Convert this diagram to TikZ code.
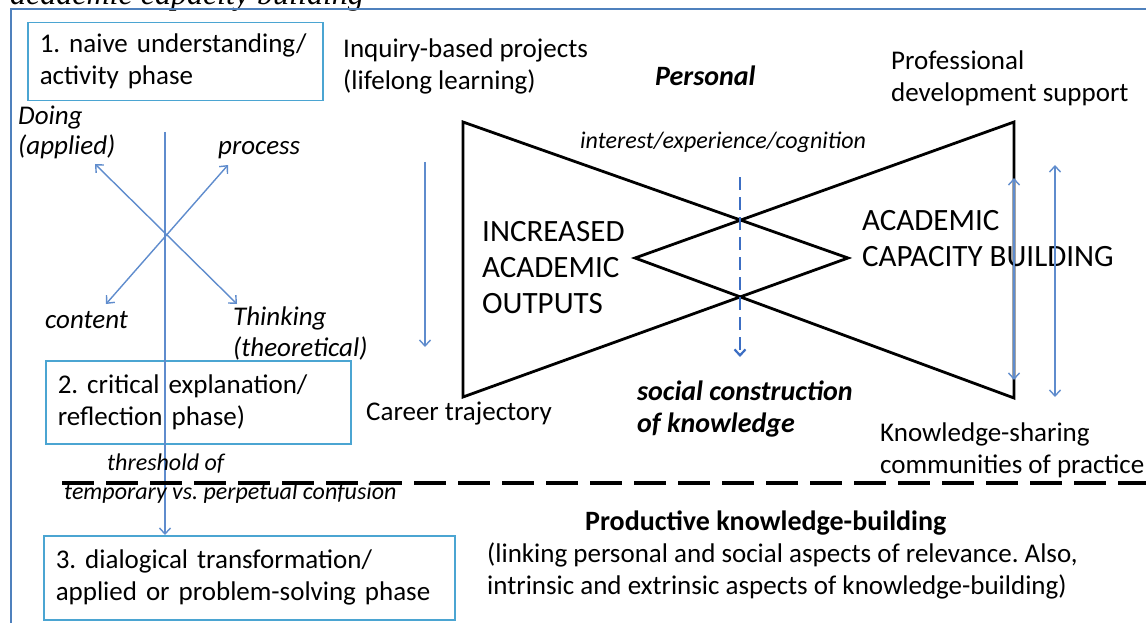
\documentclass[tikz,border=0pt]{standalone}
\usepackage{fontspec}
\setmainfont{Carlito}
\newfontfamily\titlefont{Liberation Serif}
\usetikzlibrary{arrows.meta, positioning, calc}
\definecolor{frameblue}{RGB}{79,129,189}
\definecolor{boxblue}{RGB}{75,165,210}
\definecolor{linkblue}{RGB}{95,140,205}
\definecolor{midblue}{RGB}{60,110,195}
\frenchspacing

\begin{document}
\begin{tikzpicture}[
      x=1pt, y=-1pt,
      >={Straight Barb[length=6pt,width=11pt]},
      phasebox/.style={draw=boxblue, line width=1.5pt, anchor=north west,
        align=left, inner xsep=12pt, inner ysep=0pt,
        font=\fontsize{27}{32}\selectfont},
      lbl/.style={anchor=base west, align=left, inner sep=0pt,
        font=\fontsize{27}{32}\selectfont},
      ilbl/.style={lbl, font=\fontsize{27}{31}\selectfont\itshape},
      slbl/.style={lbl, font=\fontsize{24}{30}\selectfont\itshape},
      bilbl/.style={lbl, font=\fontsize{28}{32}\selectfont\bfseries\itshape},
      caps/.style={lbl, font=\fontsize{31}{36}\selectfont},
      link/.style={draw=linkblue, line width=1.4pt},
      bow/.style={draw=black, line width=2.8pt, line join=miter}
    ]
      \useasboundingbox (0,0) rectangle (1146,623);

      % Title cut off by the frame
      \node[anchor=base west, inner sep=0pt,
        font=\fontsize{32}{38}\selectfont\titlefont\itshape] (title) at (10,5) {academic capacity building};
      \draw[frameblue, line width=2.5pt] (11,9) rectangle (1170,650);

      % Phases
      \node[phasebox, text width=271pt, minimum height=78] (phaseA) at (27,22)
        {1. naive understanding/\\activity phase};
      \node[phasebox, text width=281pt, minimum height=83] (phaseB) at (45,360)
        {2. critical explanation/\\reflection phase)};
      \node[phasebox, text width=387pt, minimum height=84] (phaseC) at (43,535)
        {3. dialogical transformation/\\applied or problem-solving phase};

      % Cross of doing/thinking, process/content
      \coordinate (top) at (165,132);
      \coordinate (doing) at (95,164);
      \coordinate (thinking) at (237,304);
      \coordinate (process) at (228,165);
      \coordinate (content) at (106,304);
      \draw[link, <->] (doing) -- (thinking);
      \draw[link, <->] (process) -- (content);
      \draw[link, ->] (top) -- (phaseC.north -| top);

      \node[ilbl] (doingL) at (18,155) {Doing\\(applied)};
      \node[ilbl] (processL) at (218,154) {process};
      \node[ilbl] (contentL) at (45,328) {content};
      \node[ilbl] (thinkingL) at (233,356) {Thinking\\(theoretical)};

      % Threshold
      \coordinate (dashL) at (62,483);
      \coordinate (dashR) at (1160,483);
      \draw[line width=3.4pt, dash pattern=on 32pt off 12pt] (dashL) -- (dashR);
      \node[slbl] (threshA) at (107,470) {threshold of};
      \node[slbl] (threshB) at (64,499) {temporary vs. perpetual confusion};

      % Bow tie
      \coordinate (TL) at (463,122);
      \coordinate (BL) at (463,397);
      \coordinate (TR) at (1014,122);
      \coordinate (BR) at (1014,398);
      \coordinate (RV) at (848,258);
      \coordinate (LV) at (635,258);
      \draw[bow] (TL) -- (RV) -- (BL) -- cycle;
      \draw[bow] (TR) -- (LV) -- (BR) -- cycle;

      % Career trajectory
      \node[lbl] (inquiry) at (343,90) {Inquiry-based projects\\(lifelong learning)};
      \coordinate (careerTop) at (425,162);
      \coordinate (careerEnd) at (425,347);
      \draw[link, ->] (careerTop) -- (careerEnd);
      \node[lbl] (career) at (366,420) {Career trajectory};

      % Personal / social
      \node[bilbl] (personal) at (655,86) {Personal};
      \node[slbl] (interest) at (580,149) {interest/experience/cognition};
      \coordinate (socTop) at (740,177);
      \coordinate (socEnd) at (740,357);
      \draw[midblue, line width=2.2pt, dash pattern=on 13pt off 7pt, ->] (socTop) -- (socEnd);
      \node[bilbl] (social) at (637,432) {social construction\\of knowledge};

      \node[caps] (outputs) at (482,313) {INCREASED\\ACADEMIC\\OUTPUTS};
      \node[caps] (capacity) at (862,266) {ACADEMIC\\CAPACITY BUILDING};

      % Support and communities
      \node[lbl] (support) at (891,102) {Professional\\development support};
      \coordinate (supA) at (1014,178);
      \coordinate (comA) at (1014,380);
      \coordinate (supB) at (1055,165);
      \coordinate (comB) at (1055,397);
      \draw[link, <->] (supA) -- (comA);
      \draw[link, <->] (supB) -- (comB);
      \node[lbl] (sharing) at (880,473) {Knowledge-sharing\\communities of practice};

      % Productive knowledge-building
      \node[lbl, font=\fontsize{28}{32}\selectfont\bfseries] (productive) at (585,530) {Productive knowledge-building};
      \node[lbl] (linking) at (487,594) {(linking personal and social aspects of relevance. Also,\\intrinsic and extrinsic aspects of knowledge-building)};
    \end{tikzpicture}
\end{document}
